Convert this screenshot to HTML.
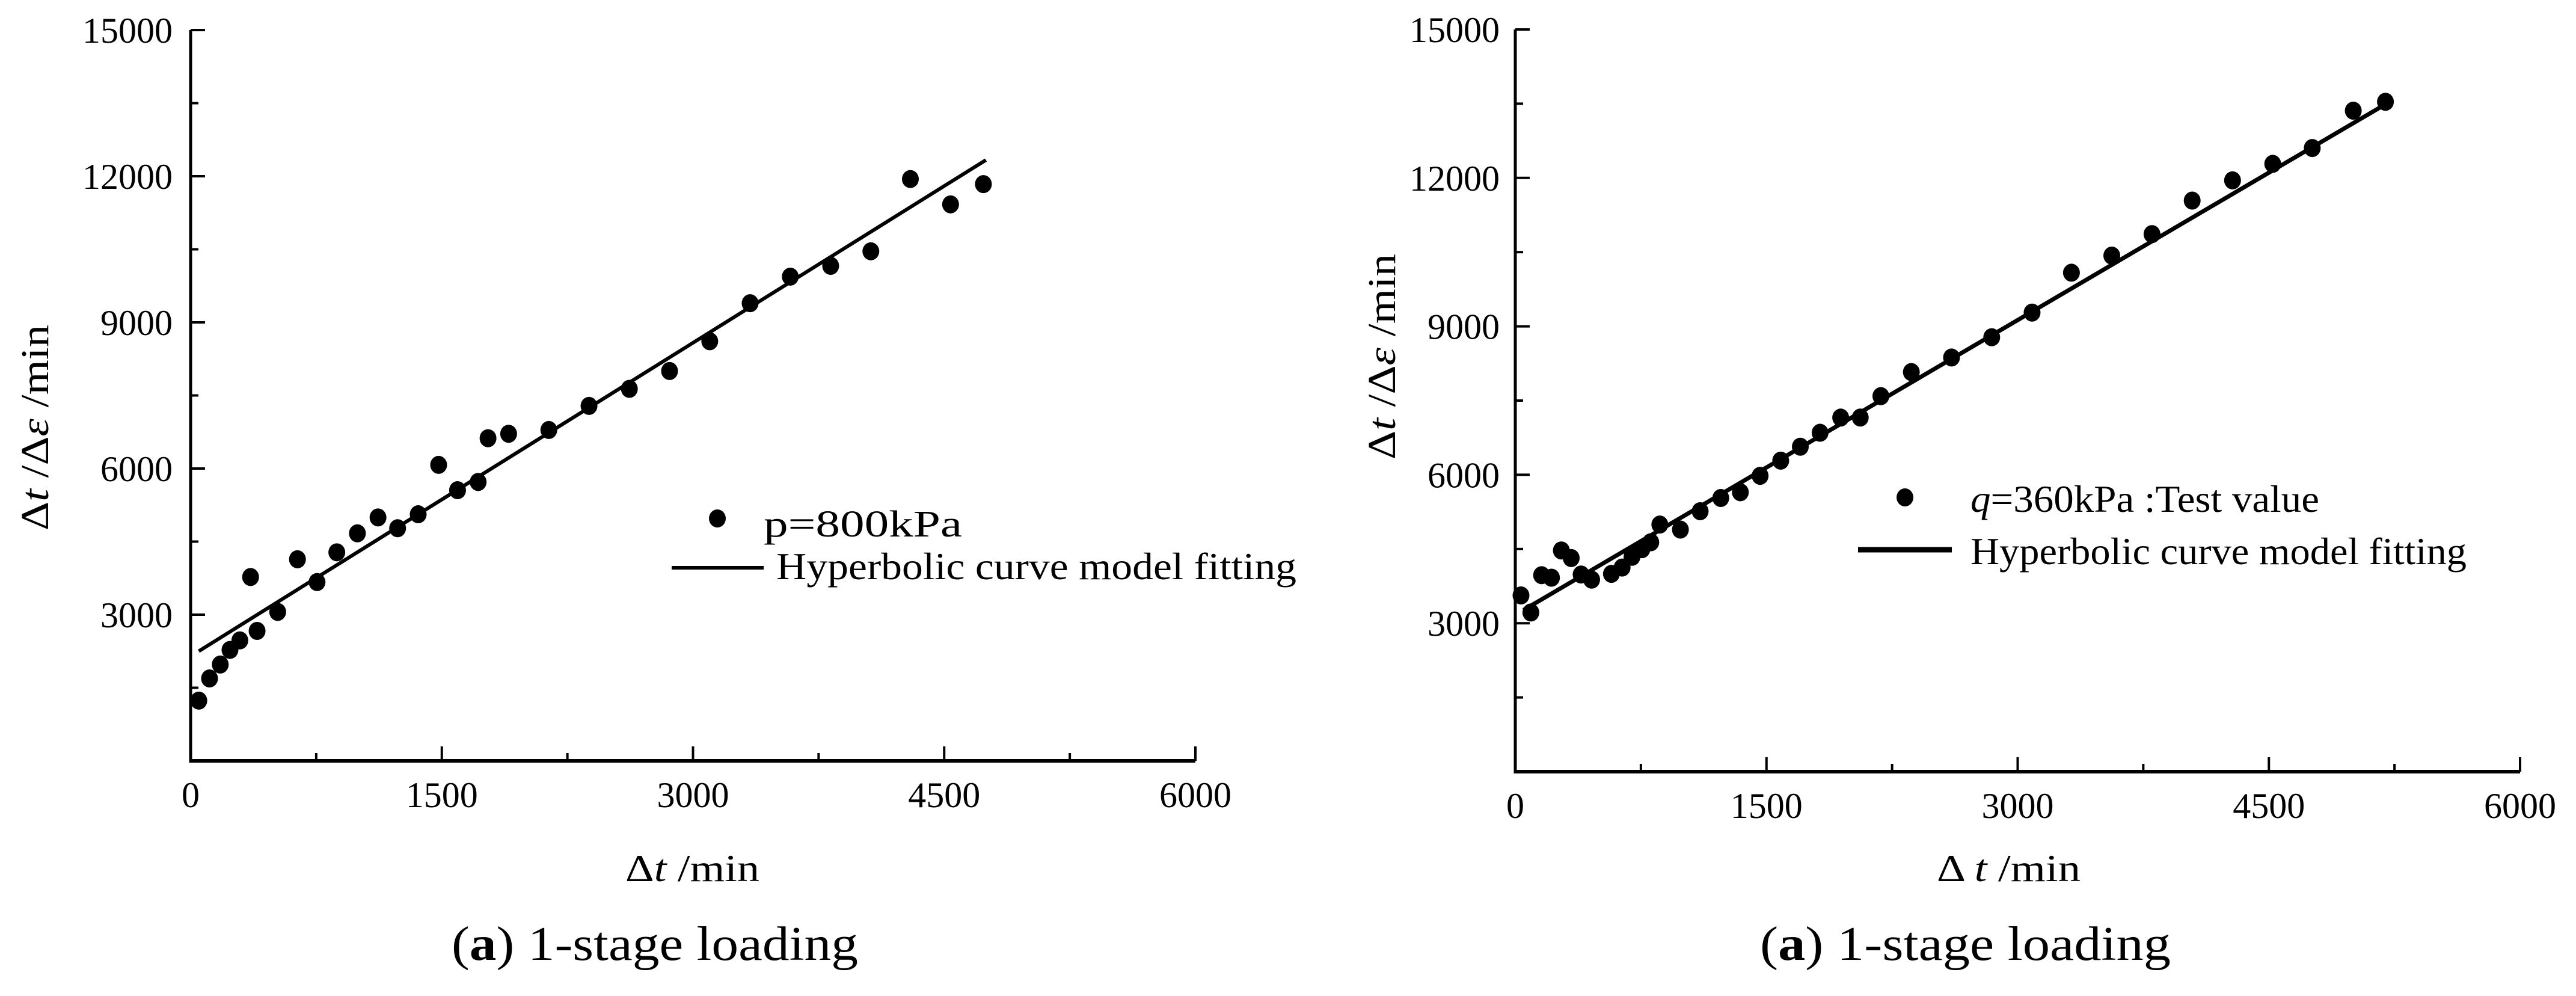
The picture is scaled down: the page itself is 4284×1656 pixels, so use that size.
<!DOCTYPE html>
<html><head><meta charset="utf-8"><style>
html,body{margin:0;padding:0;background:#fff;}
svg{display:block;font-family:"Liberation Serif",serif;}
</style></head><body>
<svg id="fig" width="4284" height="1656" viewBox="0 0 4284 1656" xmlns="http://www.w3.org/2000/svg" font-family="Liberation Serif, serif">
<rect width="4284" height="1656" fill="#fff"/>
<g id="left"></g>
<g id="right"></g>
</svg>
<script>
const leftX = [49,113,177,235,294,358,397,520,638,755,873,996,1119,1236,1359,1481,1594,1717,1776,1899,2139,2379,2620,2860,3100,3341,3581,3822,4062,4298,4538,4734];
const leftY = [1236,1691,1977,2277,2472,3773,2667,3057,4137,3669,4280,4670,4996,4774,5061,6075,5555,5724,6622,6713,6791,7285,7636,8001,8612,9393,9939,10160,10459,11942,11422,11838];
const leftFitX = [49,4749];
const leftFitY = [2251,12333];
const rightX = [34,93,157,216,275,334,393,456,574,638,697,756,809,863,986,1104,1227,1344,1462,1585,1702,1820,1943,2060,2183,2365,2605,2845,3086,3321,3562,3802,4042,4283,4523,4759,5004,5196];
const rightY = [3562,3217,3971,3920,4470,4317,3984,3881,3997,4125,4342,4496,4636,4994,4892,5263,5531,5647,5979,6286,6567,6849,7156,7156,7590,8076,8370,8779,9278,10084,10429,10864,11542,11951,12284,12604,13359,13538];
const rightFitX = [49,5196];
const rightFitY = [3266,13488];
const xTicks = [0,1500,3000,4500,6000];
const yTicks = [3000,6000,9000,12000,15000];
const xMinor = [750,2250,3750,5250];
const yMinor = [1500,4500,7500,10500,13500];

const NS = "http://www.w3.org/2000/svg";
function mk(parent, tag, attrs, text){
  const e = document.createElementNS(NS, tag);
  for (const k in attrs) e.setAttribute(k, attrs[k]);
  if (text !== undefined) e.textContent = text;
  parent.appendChild(e);
  return e;
}
function chart(g, cfg){
  const sx = v => cfg.x0 + (v/6000)*(cfg.x1-cfg.x0);
  const sy = v => cfg.y0 - (v/15000)*(cfg.y0-cfg.y1);
  let a = mk(g,'line',{x1:cfg.x0,y1:cfg.y0,x2:cfg.x1,y2:cfg.y0,stroke:'#000','stroke-width':6});
  
  
  a = mk(g,'line',{x1:cfg.x0,y1:cfg.y0+3,x2:cfg.x0,y2:cfg.y1,stroke:'#000','stroke-width':5});
  
  
  xTicks.forEach(v=>{
    const t = mk(g,'line',{x1:sx(v),y1:cfg.y0,x2:sx(v),y2:cfg.y0-24,stroke:'#000','stroke-width':4});
    
    
    const l = mk(g,'text',{x:sx(v),y:cfg.y0+cfg.xlab,'font-size':60,'text-anchor':'middle'},String(v));
    
    
  });
  xMinor.forEach(v=>{
    const t = mk(g,'line',{x1:sx(v),y1:cfg.y0,x2:sx(v),y2:cfg.y0-13,stroke:'#000','stroke-width':4});
    
    
  });
  yTicks.forEach(v=>{
    const t = mk(g,'line',{x1:cfg.x0,y1:sy(v),x2:cfg.x0+24,y2:sy(v),stroke:'#000','stroke-width':4});
    
    
    const l = mk(g,'text',{x:cfg.ylabR,y:sy(v)+21,'font-size':60,'text-anchor':'end'},String(v));
    
    
  });
  yMinor.forEach(v=>{
    const t = mk(g,'line',{x1:cfg.x0,y1:sy(v),x2:cfg.x0+13,y2:sy(v),stroke:'#000','stroke-width':4});
    
    
  });
  const f = mk(g,'line',{x1:sx(cfg.fx[0]),y1:sy(cfg.fy[0]),x2:sx(cfg.fx[1]),y2:sy(cfg.fy[1]),stroke:'#000','stroke-width':cfg.lw});
  
  
  cfg.px.forEach((v,i)=>{
    const c = mk(g,'ellipse',{cx:sx(v),cy:sy(cfg.py[i]),rx:14,ry:15,fill:'#000'});
    
    
  });
}
const L = document.getElementById('left'), R = document.getElementById('right');
chart(L,{x0:317,x1:1988,y0:1265,y1:50,xlab:77,ylabR:287,px:leftX,py:leftY,fx:leftFitX,fy:leftFitY,lw:6});
chart(R,{x0:2520,x1:4191,y0:1283,y1:49,xlab:77,ylabR:2494,px:rightX,py:rightY,fx:rightFitX,fy:rightFitY,lw:7});
</script>
<script>
const S = document.getElementById('fig');
function addText(attrs, html, name){
  const e = document.createElementNS("http://www.w3.org/2000/svg",'text');
  for (const k in attrs) e.setAttribute(k, attrs[k]);
  e.innerHTML = html;
  
  
  S.appendChild(e);
  return e;
}
let d = document.createElementNS("http://www.w3.org/2000/svg",'ellipse');
d.setAttribute('cx',1193); d.setAttribute('cy',862); d.setAttribute('rx',14); d.setAttribute('ry',15);


S.appendChild(d);
let ln = document.createElementNS("http://www.w3.org/2000/svg",'line');
ln.setAttribute('x1',1117); ln.setAttribute('x2',1270); ln.setAttribute('y1',944); ln.setAttribute('y2',944); ln.setAttribute('stroke','#000'); ln.setAttribute('stroke-width',6);


S.appendChild(ln);
addText({x:1270,y:892,'font-size':62,textLength:330,lengthAdjust:'spacingAndGlyphs'},'p=800kPa','legend-label-points');
addText({x:1291,y:963,'font-size':64,textLength:865,lengthAdjust:'spacingAndGlyphs'},'Hyperbolic curve model fitting','legend-label-fit');
d = document.createElementNS("http://www.w3.org/2000/svg",'ellipse');
d.setAttribute('cx',3168); d.setAttribute('cy',827); d.setAttribute('rx',14); d.setAttribute('ry',15);


S.appendChild(d);
ln = document.createElementNS("http://www.w3.org/2000/svg",'line');
ln.setAttribute('x1',3090); ln.setAttribute('x2',3246); ln.setAttribute('y1',914); ln.setAttribute('y2',914); ln.setAttribute('stroke','#000'); ln.setAttribute('stroke-width',9);


S.appendChild(ln);
addText({x:3277,y:851,'font-size':64,textLength:580,lengthAdjust:'spacingAndGlyphs'},'<tspan font-style="italic">q</tspan>=360kPa :Test value','legend-label-points');
addText({x:3277,y:938,'font-size':64,textLength:825,lengthAdjust:'spacingAndGlyphs'},'Hyperbolic curve model fitting','legend-label-fit');
addText({x:1040,y:1465,'font-size':64,textLength:223,lengthAdjust:'spacingAndGlyphs'},'Δ<tspan font-style="italic">t</tspan> /min','x-axis-title');
addText({x:3221,y:1465,'font-size':64,textLength:239,lengthAdjust:'spacingAndGlyphs'},'Δ <tspan font-style="italic">t</tspan> /min','x-axis-title');
addText({x:0,y:0,'font-size':66,transform:'translate(80,882) rotate(-90)',textLength:342,lengthAdjust:'spacingAndGlyphs'},'Δ<tspan font-style="italic">t</tspan> /Δ<tspan font-style="italic">ε</tspan> /min','y-axis-title');
addText({x:0,y:0,'font-size':66,transform:'translate(2320,764) rotate(-90)',textLength:342,lengthAdjust:'spacingAndGlyphs'},'Δ<tspan font-style="italic">t</tspan> /Δ<tspan font-style="italic">ε</tspan> /min','y-axis-title');
addText({x:751,y:1596,'font-size':80,textLength:676,lengthAdjust:'spacingAndGlyphs'},'(<tspan font-weight="bold">a</tspan>) 1-stage loading','caption-left');
addText({x:2927,y:1596,'font-size':80,textLength:683,lengthAdjust:'spacingAndGlyphs'},'(<tspan font-weight="bold">a</tspan>) 1-stage loading','caption-right');
</script>
</body></html>
